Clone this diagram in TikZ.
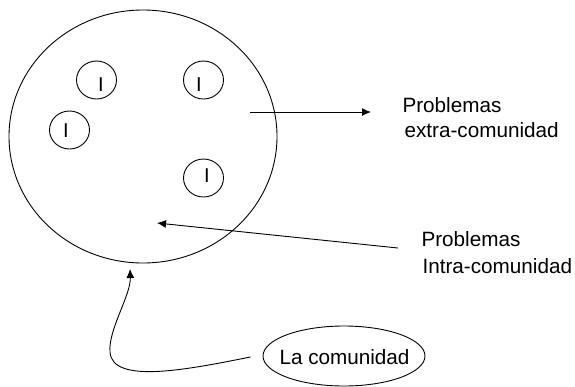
\documentclass[tikz,border=0pt]{standalone}
\usepackage{fontspec}
\setmainfont{Liberation Sans}
\usetikzlibrary{arrows.meta}
\tikzset{
  ring/.style={draw=black,line width=0.9pt},
  link/.style={draw=black,line width=0.9pt,-{Latex[length=9pt,width=8pt]}},
  txt/.style={anchor=base west,inner sep=0pt,outer sep=0pt,font=\fontsize{20.7}{24}\selectfont,text=black},
  letterI/.style={anchor=base,inner sep=0pt,outer sep=0pt,font=\fontsize{20}{24}\selectfont,text=black}
}
\begin{document}
\begin{tikzpicture}[x=1pt,y=-1pt]
\useasboundingbox (0,0) rectangle (575,386);
% community and individuals
\draw[ring] (143,136.5) ellipse [x radius=134,y radius=126.5];
\draw[ring] (96.5,80) ellipse [x radius=20,y radius=19];
\draw[ring] (203.5,80) ellipse [x radius=20,y radius=19];
\draw[ring] (69.5,130) ellipse [x radius=20,y radius=19];
\draw[ring] (203.5,178) ellipse [x radius=20,y radius=19];
\node[letterI] (i1) at (101,91.5) {I};
\node[letterI] (i2) at (199,91.5) {I};
\node[letterI] (i3) at (66,137.5) {I};
\node[letterI] (i4) at (207,182.5) {I};
% labels
\node[txt] (pe) at (402.5,112) {Problemas};
\node[txt] (ec) at (404.5,137) {extra-comunidad};
\node[txt] (pi) at (421.5,246) {Problemas};
\node[txt] (ic) at (422.5,273) {Intra-comunidad};
\draw[ring] (344,356) ellipse [x radius=81,y radius=30];
\node[txt] (lc) at (279.5,364) {La comunidad};
% connector ends
\coordinate (a1) at (250,112);
\coordinate (a2) at (371,112);
\coordinate (b1) at (398,248);
\coordinate (b2) at (157,223);
\coordinate (c1) at (250.5,357);
\coordinate (c2) at (130,269);
\coordinate (c3) at (110,352);
\draw[link] (a1) -- (a2);
\draw[link] (b1) -- (b2);
\draw[link] (c1) .. controls (190,369) and (112,385) .. (c3) .. controls (108,330) and (131,295) .. (c2);
\end{tikzpicture}
\end{document}
